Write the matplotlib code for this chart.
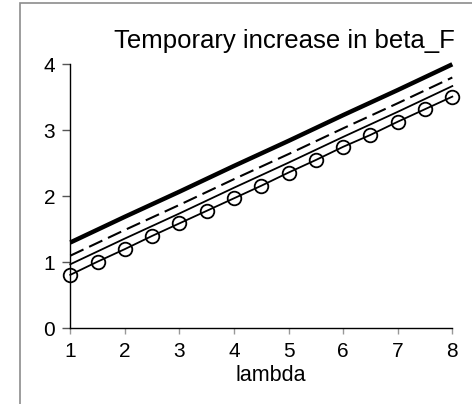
import matplotlib
matplotlib.use('Agg')
import matplotlib.pyplot as plt
from matplotlib.patches import Rectangle

# Values
lam = [1, 2, 3, 4, 5, 6, 7, 8]
thick_line = [1.30, 1.69, 2.07, 2.46, 2.84, 3.23, 3.61, 4.00]
dashed_line = [1.10, 1.49, 1.87, 2.26, 2.64, 3.03, 3.41, 3.80]
thin_line = [0.97, 1.36, 1.74, 2.13, 2.51, 2.90, 3.28, 3.67]

lam_half = [1, 1.5, 2, 2.5, 3, 3.5, 4, 4.5, 5, 5.5, 6, 6.5, 7, 7.5, 8]
circle_line = [0.81, 1.01, 1.20, 1.40, 1.59, 1.78, 1.97, 2.16, 2.36, 2.55, 2.75, 2.93, 3.13, 3.32, 3.51]

x_ticks = [1, 2, 3, 4, 5, 6, 7, 8]
y_ticks = [0, 1, 2, 3, 4]

plt.rcParams['font.family'] = ['Liberation Sans', 'DejaVu Sans']

W, H = 472, 404
fig = plt.figure(figsize=(W / 100, H / 100), dpi=100)

# outer chart frame (only left and top edges visible)
fig.patches.append(Rectangle((20 / W, -0.1), 1.2, 1 - 3 / H + 0.1, transform=fig.transFigure,
                             fill=False, edgecolor='#8c8c8c', linewidth=1.2))

ax = fig.add_axes([70.3 / W, 1 - 328.3 / H, (452.3 - 70.3) / W, (328.3 - 64.3) / H])

ax.plot(lam, thick_line, color='black', linewidth=3.2, solid_capstyle='butt', clip_on=False)
ax.plot(lam, dashed_line, color='black', linewidth=1.5, dashes=(7, 3), clip_on=False)
ax.plot(lam, thin_line, color='black', linewidth=1.3, clip_on=False)
ax.plot(lam_half, circle_line, color='black', linewidth=1.3, marker='o', markersize=9.8,
        markerfacecolor='none', markeredgecolor='black', markeredgewidth=1.3, clip_on=False)

ax.set_xlim(1, 8)
ax.set_ylim(0, 4)
ax.set_xticks(x_ticks)
ax.set_yticks(y_ticks)
for s in ['top', 'right']:
    ax.spines[s].set_visible(False)
for s in ['left', 'bottom']:
    ax.spines[s].set_linewidth(1.0)
ax.tick_params(axis='y', direction='out', length=6, width=1, color='#555555', labelsize=15, pad=5)
ax.tick_params(axis='x', direction='out', length=4, width=1, color='#999999', labelsize=15, pad=6)

ax.set_xlabel('lambda', fontsize=15.5, labelpad=2)
ax.xaxis.set_label_coords((271 - 70.3) / (452.3 - 70.3), -0.14)

fig.text(455 / W, 1 - 48 / H, 'Temporary increase in beta_F', fontsize=18.5,
         ha='right', va='baseline')

fig.savefig('out.png', dpi=100)
